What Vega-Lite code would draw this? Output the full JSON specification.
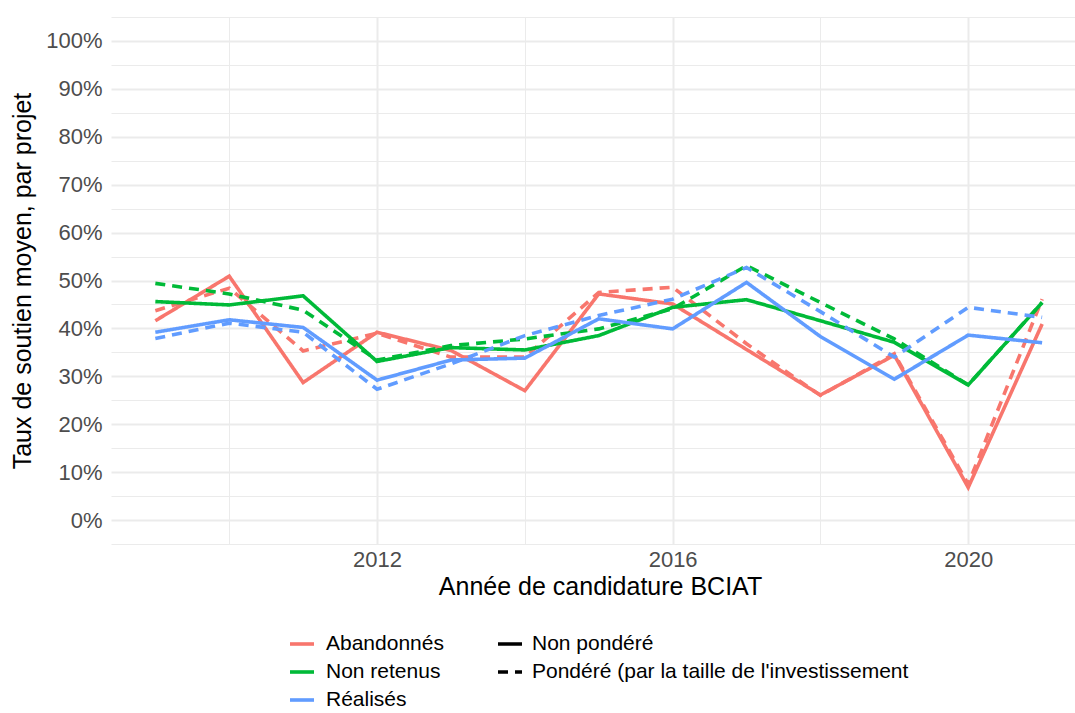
{
  "$schema": "https://vega.github.io/schema/vega-lite/v6.json",
  "width": 964,
  "height": 527,
  "autosize": {"type": "none"},
  "padding": {"left": 111, "top": 17, "right": 0, "bottom": 169},
  "background": "white",
  "config": {
    "view": {"stroke": null},
    "font": "Liberation Sans"
  },
  "data": {
    "values": [
      {"year": 2009, "group": "Abandonnés", "type": "Non pondéré", "value": 41.6},
      {"year": 2010, "group": "Abandonnés", "type": "Non pondéré", "value": 50.9},
      {"year": 2011, "group": "Abandonnés", "type": "Non pondéré", "value": 28.7},
      {"year": 2012, "group": "Abandonnés", "type": "Non pondéré", "value": 39.2},
      {"year": 2013, "group": "Abandonnés", "type": "Non pondéré", "value": 35.4},
      {"year": 2014, "group": "Abandonnés", "type": "Non pondéré", "value": 27.0},
      {"year": 2015, "group": "Abandonnés", "type": "Non pondéré", "value": 47.2},
      {"year": 2016, "group": "Abandonnés", "type": "Non pondéré", "value": 45.1},
      {"year": 2017, "group": "Abandonnés", "type": "Non pondéré", "value": 35.6},
      {"year": 2018, "group": "Abandonnés", "type": "Non pondéré", "value": 26.1},
      {"year": 2019, "group": "Abandonnés", "type": "Non pondéré", "value": 34.4},
      {"year": 2020, "group": "Abandonnés", "type": "Non pondéré", "value": 6.8},
      {"year": 2021, "group": "Abandonnés", "type": "Non pondéré", "value": 40.9},
      {"year": 2009, "group": "Abandonnés", "type": "Pondéré (par la taille de l'investissement", "value": 43.7},
      {"year": 2010, "group": "Abandonnés", "type": "Pondéré (par la taille de l'investissement", "value": 48.4},
      {"year": 2011, "group": "Abandonnés", "type": "Pondéré (par la taille de l'investissement", "value": 35.3},
      {"year": 2012, "group": "Abandonnés", "type": "Pondéré (par la taille de l'investissement", "value": 39.0},
      {"year": 2013, "group": "Abandonnés", "type": "Pondéré (par la taille de l'investissement", "value": 34.0},
      {"year": 2014, "group": "Abandonnés", "type": "Pondéré (par la taille de l'investissement", "value": 34.0},
      {"year": 2015, "group": "Abandonnés", "type": "Pondéré (par la taille de l'investissement", "value": 47.5},
      {"year": 2016, "group": "Abandonnés", "type": "Pondéré (par la taille de l'investissement", "value": 48.6},
      {"year": 2017, "group": "Abandonnés", "type": "Pondéré (par la taille de l'investissement", "value": 36.8},
      {"year": 2018, "group": "Abandonnés", "type": "Pondéré (par la taille de l'investissement", "value": 26.0},
      {"year": 2019, "group": "Abandonnés", "type": "Pondéré (par la taille de l'investissement", "value": 34.7},
      {"year": 2020, "group": "Abandonnés", "type": "Pondéré (par la taille de l'investissement", "value": 7.5},
      {"year": 2021, "group": "Abandonnés", "type": "Pondéré (par la taille de l'investissement", "value": 46.1},
      {"year": 2009, "group": "Non retenus", "type": "Non pondéré", "value": 45.6},
      {"year": 2010, "group": "Non retenus", "type": "Non pondéré", "value": 44.9},
      {"year": 2011, "group": "Non retenus", "type": "Non pondéré", "value": 46.8},
      {"year": 2012, "group": "Non retenus", "type": "Non pondéré", "value": 33.1},
      {"year": 2013, "group": "Non retenus", "type": "Non pondéré", "value": 36.0},
      {"year": 2014, "group": "Non retenus", "type": "Non pondéré", "value": 35.5},
      {"year": 2015, "group": "Non retenus", "type": "Non pondéré", "value": 38.5},
      {"year": 2016, "group": "Non retenus", "type": "Non pondéré", "value": 44.4},
      {"year": 2017, "group": "Non retenus", "type": "Non pondéré", "value": 46.0},
      {"year": 2018, "group": "Non retenus", "type": "Non pondéré", "value": 41.6},
      {"year": 2019, "group": "Non retenus", "type": "Non pondéré", "value": 37.1},
      {"year": 2020, "group": "Non retenus", "type": "Non pondéré", "value": 28.2},
      {"year": 2021, "group": "Non retenus", "type": "Non pondéré", "value": 45.4},
      {"year": 2009, "group": "Non retenus", "type": "Pondéré (par la taille de l'investissement", "value": 49.4},
      {"year": 2010, "group": "Non retenus", "type": "Pondéré (par la taille de l'investissement", "value": 47.2},
      {"year": 2011, "group": "Non retenus", "type": "Pondéré (par la taille de l'investissement", "value": 43.8},
      {"year": 2012, "group": "Non retenus", "type": "Pondéré (par la taille de l'investissement", "value": 33.4},
      {"year": 2013, "group": "Non retenus", "type": "Pondéré (par la taille de l'investissement", "value": 36.4},
      {"year": 2014, "group": "Non retenus", "type": "Pondéré (par la taille de l'investissement", "value": 37.8},
      {"year": 2015, "group": "Non retenus", "type": "Pondéré (par la taille de l'investissement", "value": 39.9},
      {"year": 2016, "group": "Non retenus", "type": "Pondéré (par la taille de l'investissement", "value": 44.1},
      {"year": 2017, "group": "Non retenus", "type": "Pondéré (par la taille de l'investissement", "value": 53.1},
      {"year": 2018, "group": "Non retenus", "type": "Pondéré (par la taille de l'investissement", "value": 45.4},
      {"year": 2019, "group": "Non retenus", "type": "Pondéré (par la taille de l'investissement", "value": 37.8},
      {"year": 2020, "group": "Non retenus", "type": "Pondéré (par la taille de l'investissement", "value": 28.2},
      {"year": 2021, "group": "Non retenus", "type": "Pondéré (par la taille de l'investissement", "value": 45.4},
      {"year": 2009, "group": "Réalisés", "type": "Non pondéré", "value": 39.2},
      {"year": 2010, "group": "Réalisés", "type": "Non pondéré", "value": 41.8},
      {"year": 2011, "group": "Réalisés", "type": "Non pondéré", "value": 40.2},
      {"year": 2012, "group": "Réalisés", "type": "Non pondéré", "value": 29.2},
      {"year": 2013, "group": "Réalisés", "type": "Non pondéré", "value": 33.4},
      {"year": 2014, "group": "Réalisés", "type": "Non pondéré", "value": 33.8},
      {"year": 2015, "group": "Réalisés", "type": "Non pondéré", "value": 42.0},
      {"year": 2016, "group": "Réalisés", "type": "Non pondéré", "value": 39.9},
      {"year": 2017, "group": "Réalisés", "type": "Non pondéré", "value": 49.6},
      {"year": 2018, "group": "Réalisés", "type": "Non pondéré", "value": 38.3},
      {"year": 2019, "group": "Réalisés", "type": "Non pondéré", "value": 29.4},
      {"year": 2020, "group": "Réalisés", "type": "Non pondéré", "value": 38.6},
      {"year": 2021, "group": "Réalisés", "type": "Non pondéré", "value": 37.0},
      {"year": 2009, "group": "Réalisés", "type": "Pondéré (par la taille de l'investissement", "value": 37.9},
      {"year": 2010, "group": "Réalisés", "type": "Pondéré (par la taille de l'investissement", "value": 41.1},
      {"year": 2011, "group": "Réalisés", "type": "Pondéré (par la taille de l'investissement", "value": 39.2},
      {"year": 2012, "group": "Réalisés", "type": "Pondéré (par la taille de l'investissement", "value": 27.3},
      {"year": 2013, "group": "Réalisés", "type": "Pondéré (par la taille de l'investissement", "value": 32.6},
      {"year": 2014, "group": "Réalisés", "type": "Pondéré (par la taille de l'investissement", "value": 38.5},
      {"year": 2015, "group": "Réalisés", "type": "Pondéré (par la taille de l'investissement", "value": 42.7},
      {"year": 2016, "group": "Réalisés", "type": "Pondéré (par la taille de l'investissement", "value": 46.1},
      {"year": 2017, "group": "Réalisés", "type": "Pondéré (par la taille de l'investissement", "value": 52.7},
      {"year": 2018, "group": "Réalisés", "type": "Pondéré (par la taille de l'investissement", "value": 43.5},
      {"year": 2019, "group": "Réalisés", "type": "Pondéré (par la taille de l'investissement", "value": 34.0},
      {"year": 2020, "group": "Réalisés", "type": "Pondéré (par la taille de l'investissement", "value": 44.4},
      {"year": 2021, "group": "Réalisés", "type": "Pondéré (par la taille de l'investissement", "value": 42.3}
    ]
  },
  "mark": {"type": "line", "strokeWidth": 3.6, "clip": true},
  "encoding": {
    "x": {
      "field": "year",
      "type": "quantitative",
      "scale": {"domain": [2008.4, 2021.445], "nice": false, "zero": false},
      "axis": {
        "values": [2010, 2012, 2014, 2016, 2018, 2020],
        "labelExpr": "datum.value % 4 == 0 ? datum.value : ''",
        "grid": true,
        "gridColor": "#EBEBEB",
        "gridWidth": {"expr": "datum.value % 4 == 0 ? 2 : 1"},
        "ticks": false,
        "domain": false,
        "labelFontSize": 22,
        "labelColor": "#4D4D4D",
        "labelPadding": 5,
        "labelFlush": false,
        "title": "Année de candidature BCIAT",
        "titleX": 489,
        "titleFontSize": 25,
        "titleFontWeight": "normal",
        "titleColor": "#000000",
        "titlePadding": 4
      }
    },
    "y": {
      "field": "value",
      "type": "quantitative",
      "scale": {"domain": [-5, 105], "nice": false, "zero": false},
      "axis": {
        "values": [-5, 0, 5, 10, 15, 20, 25, 30, 35, 40, 45, 50, 55, 60, 65, 70, 75, 80, 85, 90, 95, 100, 105],
        "labelExpr": "(datum.value % 10 == 0 && datum.value >= 0 && datum.value <= 100) ? datum.value + '%' : ''",
        "grid": true,
        "gridColor": "#EBEBEB",
        "gridWidth": {"expr": "datum.value % 10 == 0 ? 2 : 1"},
        "ticks": false,
        "domain": false,
        "labelFontSize": 22,
        "labelColor": "#4D4D4D",
        "labelPadding": 9,
        "labelFlush": false,
        "title": "Taux de soutien moyen, par projet",
        "titleFontSize": 25,
        "titleFontWeight": "normal",
        "titleColor": "#000000",
        "titlePadding": 10
      }
    },
    "color": {
      "field": "group",
      "type": "nominal",
      "scale": {
        "domain": ["Abandonnés", "Non retenus", "Réalisés"],
        "range": ["#F8766D", "#00BA38", "#619CFF"]
      },
      "legend": {
        "orient": "none",
        "legendX": 177,
        "legendY": 613,
        "title": null,
        "symbolType": "stroke",
        "symbolSize": 576,
        "symbolStrokeWidth": 3.6,
        "labelFontSize": 21,
        "labelColor": "#000000",
        "labelOffset": 10,
        "rowPadding": 4,
        "labelLimit": 600
      }
    },
    "strokeDash": {
      "field": "type",
      "type": "nominal",
      "scale": {
        "domain": ["Non pondéré", "Pondéré (par la taille de l'investissement"],
        "range": [[1, 0], [10, 7]]
      },
      "legend": {
        "orient": "none",
        "legendX": 385,
        "legendY": 613,
        "title": null,
        "symbolType": "stroke",
        "symbolSize": 576,
        "symbolStrokeWidth": 3.6,
        "symbolStrokeColor": "#000000",
        "labelFontSize": 21,
        "labelColor": "#000000",
        "labelOffset": 8,
        "rowPadding": 4,
        "labelLimit": 600
      }
    }
  }
}
